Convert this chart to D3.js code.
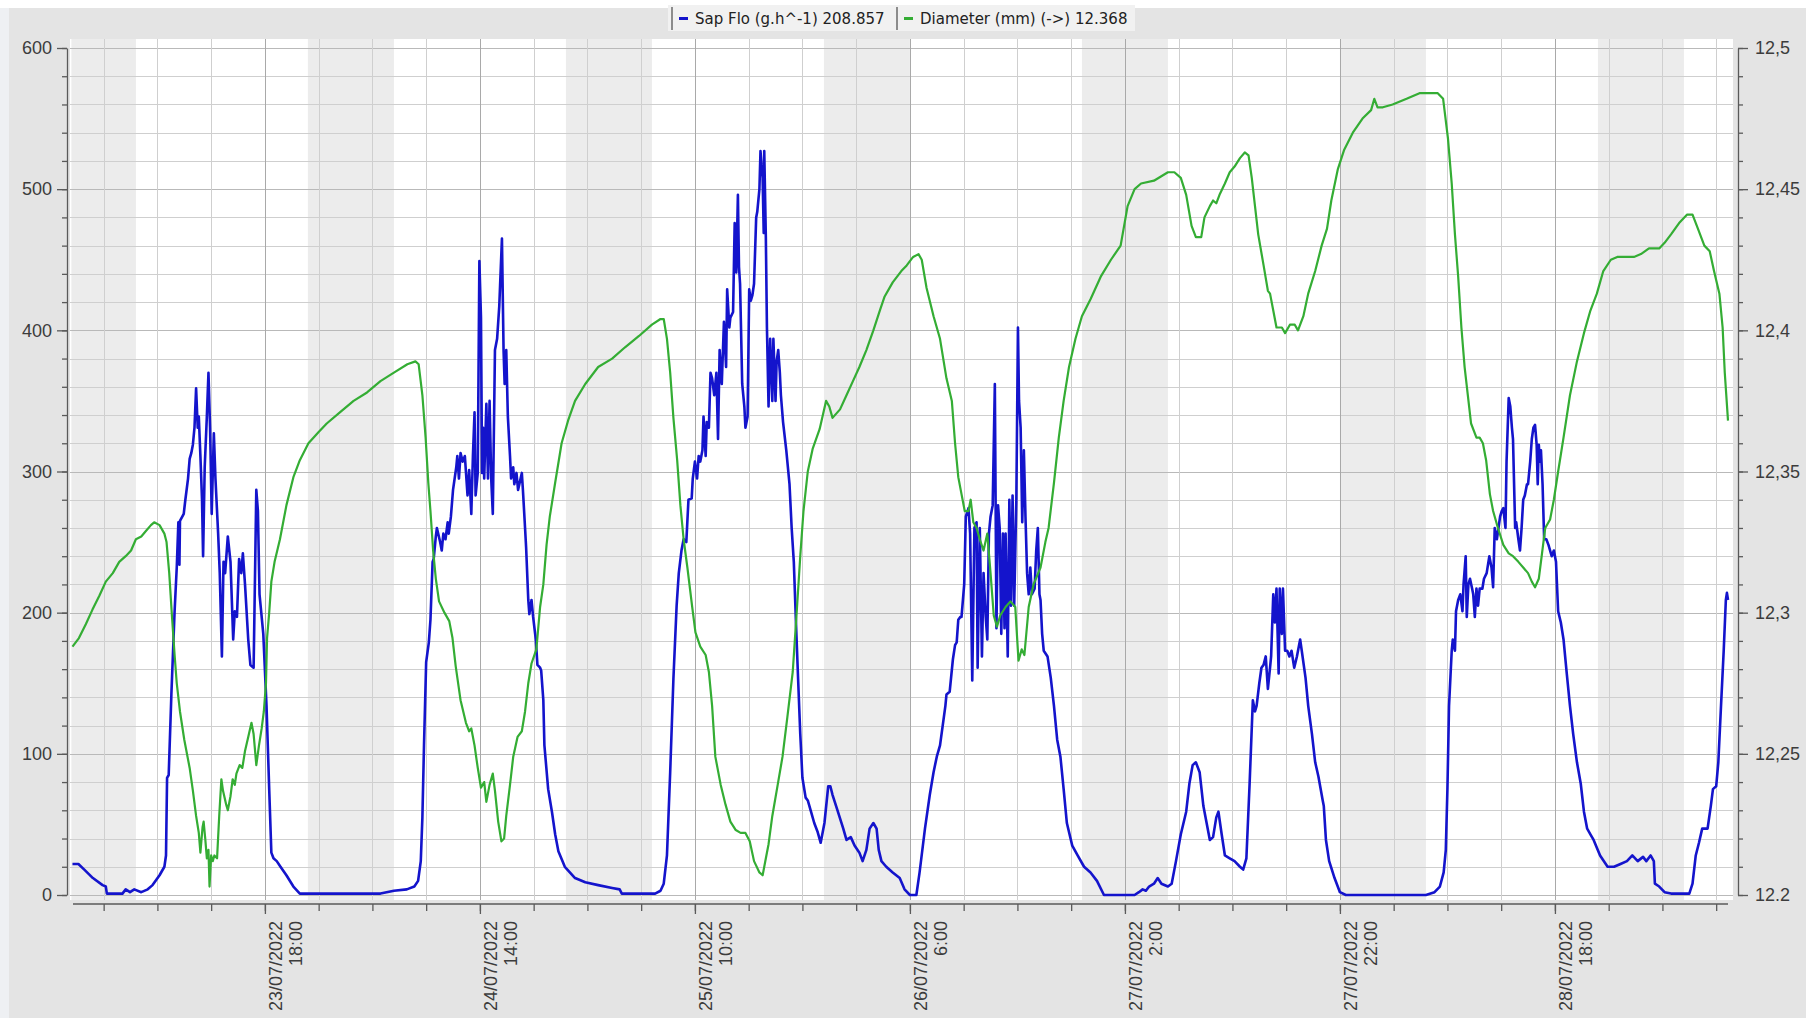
<!DOCTYPE html>
<html>
<head>
<meta charset="utf-8">
<script src="https://cdn.jsdelivr.net/npm/d3@7"></script>
<style>
body { margin: 0; background: #fff; }
svg { display: block; }
</style>
</head>
<body>
<svg id="chart" width="1806" height="1018"></svg>
<script>
// time is kept as hours since 23/07/2022 0:00
var start = new Date(2022, 6, 23, 0, 0);
var endHour = 154.1;

// night shading (22:00 -> 6:00)
var nights = [[0, 6], [22, 30], [46, 54], [70, 78], [94, 102], [118, 126], [142, 150]];

var tickHours = d3.range(3, 154, 5);
var labelHours = [18, 38, 58, 78, 98, 118, 138];

var sapTicks = [0, 100, 200, 300, 400, 500, 600];
var diaTicks = [12.2, 12.25, 12.3, 12.35, 12.4, 12.45, 12.5];
var diaLabels = ["12.2", "12,25", "12,3", "12,35", "12,4", "12,45", "12,5"];

var legendItems = ["Sap Flo (g.h^-1) 208.857", "Diameter (mm) (->) 12.368"];

// Sap flow (left axis) [hour, g/h]
var sapFlow = [
[0.1,22],[0.65,22],[1.2,18],[2,12],[2.9,7],[3.2,6],[3.3,1],[4.75,1],[5.05,4],[5.45,2],[5.85,4],[6.5,2],[7.1,4],[7.55,7],[8.2,14],[8.65,20],[8.8,28],[8.9,83],[9.05,85],[9.3,142],[9.6,201],[9.8,232],[9.95,264],[10.05,234],[10.1,265],[10.45,270],[10.6,280],[10.85,295],[11,309],[11.15,313],[11.3,319],[11.45,331],[11.6,359],[11.75,331],[11.85,339],[12,311],[12.15,280],[12.25,240],[12.4,303],[12.6,339],[12.75,370],[12.9,331],[13.05,270],[13.25,327],[13.4,295],[13.65,256],[13.8,228],[14,169],[14.15,236],[14.3,228],[14.55,254],[14.8,236],[15.05,181],[15.2,201],[15.4,197],[15.6,238],[15.8,228],[15.95,242],[16.15,220],[16.45,181],[16.65,163],[16.95,161],[17.2,287],[17.35,272],[17.5,213],[17.85,185],[18.15,134],[18.4,75],[18.6,30],[18.8,26],[19.1,24],[19.45,20],[20,14],[20.65,6],[21.25,1],[21.6,1],[26.9,1],[28.75,1],[30,3],[31.2,4],[31.9,6],[32.25,10],[32.5,24],[32.65,55],[32.8,106],[33,165],[33.25,179],[33.4,195],[33.6,236],[33.7,238],[33.9,254],[34,260],[34.3,250],[34.45,244],[34.6,256],[34.8,252],[35,264],[35.1,256],[35.3,268],[35.5,287],[35.8,303],[35.9,311],[36.05,295],[36.2,313],[36.4,307],[36.6,311],[36.85,283],[37,301],[37.2,270],[37.35,311],[37.5,342],[37.6,283],[37.8,299],[37.95,449],[38.1,409],[38.2,299],[38.3,331],[38.4,295],[38.6,348],[38.75,295],[38.9,350],[39.05,295],[39.2,270],[39.4,386],[39.6,394],[39.8,417],[40.05,465],[40.2,386],[40.3,362],[40.45,386],[40.6,339],[40.8,311],[40.9,295],[41.1,303],[41.2,291],[41.4,299],[41.55,287],[41.9,299],[42,287],[42.2,260],[42.3,246],[42.5,209],[42.6,199],[42.8,209],[42.95,197],[43.2,181],[43.35,163],[43.6,161],[43.7,159],[43.9,138],[44,106],[44.35,75],[44.7,59],[45,43],[45.3,31],[45.9,20],[46.85,12],[47.8,9],[49,7],[50.3,5],[51,4],[51.2,1],[53.4,1],[54.3,1],[54.8,3],[55.1,8],[55.4,28],[55.7,87],[56,153],[56.3,205],[56.5,228],[56.75,244],[56.95,252],[57.2,250],[57.4,280],[57.7,281],[57.8,295],[58,307],[58.2,295],[58.35,311],[58.5,307],[58.7,315],[58.8,339],[59,311],[59.1,335],[59.3,331],[59.45,370],[59.6,366],[59.8,354],[60,370],[60.15,323],[60.3,386],[60.5,362],[60.7,406],[60.9,374],[61,429],[61.2,402],[61.3,409],[61.55,413],[61.7,476],[61.85,441],[62,496],[62.1,445],[62.2,433],[62.4,362],[62.6,346],[62.7,331],[62.9,339],[63.05,429],[63.2,421],[63.35,425],[63.5,433],[63.7,480],[63.8,484],[64,500],[64.1,527],[64.3,508],[64.4,469],[64.45,527],[64.6,465],[64.7,402],[64.85,346],[65,394],[65.2,350],[65.3,394],[65.5,350],[65.6,378],[65.75,386],[65.9,370],[66,354],[66.2,335],[66.5,315],[66.8,291],[67,260],[67.2,236],[67.4,193],[67.6,153],[67.8,114],[68,83],[68.3,69],[68.5,67],[68.8,59],[69.1,51],[69.4,45],[69.7,37],[70.05,51],[70.4,77],[70.6,77],[70.8,71],[71.3,59],[71.8,47],[72.1,39],[72.5,41],[72.85,35],[73.3,30],[73.6,24],[73.95,32],[74.25,47],[74.6,51],[74.9,47],[75.1,32],[75.35,24],[75.8,20],[76.4,16],[77.05,12],[77.5,4],[78,0],[78.6,0],[78.9,16],[79.4,47],[79.85,71],[80.2,87],[80.5,98],[80.8,106],[81.3,134],[81.4,142],[81.7,144],[82,167],[82.2,177],[82.35,179],[82.5,195],[82.7,197],[82.8,197],[83.05,220],[83.2,268],[83.45,274],[83.6,256],[83.8,152],[84,260],[84.2,264],[84.3,161],[84.5,260],[84.7,169],[84.85,228],[85.05,197],[85.2,181],[85.35,256],[85.5,268],[85.7,276],[85.9,362],[86.05,189],[86.2,276],[86.35,260],[86.5,185],[86.65,256],[86.8,189],[86.9,256],[87.1,169],[87.25,280],[87.4,205],[87.55,283],[87.7,205],[87.9,280],[88.05,402],[88.15,350],[88.3,331],[88.45,264],[88.6,315],[88.75,268],[88.9,228],[89.05,213],[89.2,232],[89.35,213],[89.6,217],[89.75,244],[89.9,260],[90.05,213],[90.15,209],[90.3,185],[90.45,173],[90.8,169],[91.1,154],[91.4,134],[91.7,110],[92,98],[92.3,75],[92.6,51],[93.1,35],[93.6,28],[94.2,20],[94.8,16],[95.4,10],[96.05,0],[98.9,0],[99.3,2],[99.65,4],[99.95,3],[100.25,6],[100.7,8],[101.05,12],[101.4,8],[102,6],[102.35,8],[102.75,24],[103.2,43],[103.7,59],[104,79],[104.3,92],[104.6,94],[104.95,87],[105.3,63],[105.6,51],[105.9,39],[106.2,41],[106.5,55],[106.7,59],[107,43],[107.3,28],[107.75,26],[108.2,24],[108.7,20],[109,18],[109.3,26],[109.6,79],[109.9,138],[110.1,130],[110.25,134],[110.5,150],[110.7,161],[110.9,163],[111.1,169],[111.3,146],[111.5,161],[111.6,169],[111.8,213],[111.95,193],[112.1,217],[112.3,157],[112.4,217],[112.6,185],[112.7,217],[112.9,173],[113.1,173],[113.3,169],[113.5,173],[113.75,161],[114,169],[114.3,181],[114.45,173],[114.8,154],[115.05,134],[115.4,114],[115.7,94],[116,84],[116.4,67],[116.5,63],[116.7,39],[117,24],[117.5,12],[118,2],[118.55,0],[126,0],[126.8,2],[127.3,6],[127.65,16],[127.85,32],[128,75],[128.15,134],[128.4,173],[128.5,181],[128.7,173],[128.8,201],[129,209],[129.2,213],[129.4,201],[129.5,220],[129.7,240],[129.8,197],[129.95,220],[130.1,224],[130.3,217],[130.4,213],[130.55,197],[130.7,217],[130.85,205],[131,217],[131.25,217],[131.4,224],[131.65,228],[131.9,240],[132.1,232],[132.25,218],[132.4,260],[132.6,252],[132.75,260],[132.9,268],[133.05,272],[133.2,274],[133.4,260],[133.5,307],[133.7,352],[133.85,346],[134,331],[134.1,323],[134.3,260],[134.4,264],[134.6,252],[134.75,244],[134.9,260],[135.05,280],[135.2,283],[135.4,291],[135.5,291],[135.7,307],[135.85,323],[136,331],[136.15,333],[136.3,319],[136.4,291],[136.5,319],[136.6,307],[136.7,315],[136.85,291],[137,252],[137.2,252],[137.4,248],[137.7,240],[137.9,244],[138.1,236],[138.3,201],[138.55,193],[138.8,181],[139.1,157],[139.4,134],[139.7,114],[140.05,94],[140.4,79],[140.7,59],[141,47],[141.3,43],[141.6,39],[142.2,28],[142.9,20],[143.5,20],[144.1,22],[144.7,24],[145.2,28],[145.7,24],[146.2,27],[146.5,24],[146.9,28],[147.2,24],[147.3,8],[147.7,6],[148.2,2],[148.8,1],[150.5,1],[150.8,8],[151.1,28],[151.4,37],[151.7,47],[152.2,47],[152.5,63],[152.7,75],[153,77],[153.2,94],[153.45,134],[153.7,173],[153.9,209],[154,214],[154.1,209]
];

// Diameter (right axis) [hour, mm]
var diameter = [
[0.1,12.288],[0.7,12.291],[1.35,12.296],[1.95,12.301],[2.6,12.306],[3.2,12.311],[3.85,12.314],[4.45,12.318],[5.05,12.320],[5.55,12.322],[6,12.326],[6.5,12.327],[6.95,12.329],[7.4,12.331],[7.7,12.332],[8.2,12.331],[8.65,12.328],[8.85,12.325],[9.1,12.314],[9.35,12.299],[9.6,12.285],[9.8,12.275],[10.1,12.265],[10.5,12.255],[11,12.245],[11.3,12.237],[11.6,12.228],[11.85,12.222],[12,12.215],[12.2,12.224],[12.3,12.226],[12.45,12.220],[12.6,12.213],[12.75,12.216],[12.85,12.203],[13,12.214],[13.15,12.212],[13.3,12.214],[13.55,12.213],[13.75,12.228],[13.95,12.241],[14.1,12.237],[14.4,12.232],[14.55,12.230],[14.8,12.235],[15,12.241],[15.2,12.239],[15.35,12.243],[15.65,12.246],[15.9,12.245],[16.15,12.251],[16.45,12.256],[16.75,12.261],[16.95,12.257],[17.2,12.246],[17.45,12.253],[17.7,12.259],[17.9,12.265],[18.1,12.275],[18.2,12.291],[18.4,12.300],[18.6,12.311],[18.9,12.318],[19.4,12.326],[20,12.338],[20.65,12.348],[21.25,12.354],[22.05,12.360],[23,12.364],[23.75,12.367],[25,12.371],[26.25,12.375],[27.5,12.378],[28.75,12.382],[30,12.385],[31.25,12.388],[32,12.389],[32.3,12.388],[32.65,12.377],[32.95,12.362],[33.2,12.346],[33.4,12.336],[33.65,12.322],[33.9,12.312],[34.2,12.304],[34.7,12.300],[35.15,12.297],[35.45,12.291],[35.75,12.281],[36.2,12.269],[36.7,12.261],[37,12.258],[37.2,12.259],[37.5,12.253],[37.8,12.245],[38.1,12.238],[38.4,12.240],[38.6,12.233],[38.9,12.239],[39.2,12.243],[39.4,12.237],[39.7,12.226],[40,12.219],[40.25,12.220],[40.45,12.228],[40.8,12.239],[41.1,12.249],[41.5,12.256],[41.9,12.258],[42.2,12.265],[42.5,12.275],[42.8,12.282],[43.25,12.287],[43.6,12.302],[43.9,12.310],[44.2,12.324],[44.5,12.334],[45,12.346],[45.6,12.360],[46.2,12.368],[46.85,12.375],[47.8,12.381],[49,12.387],[50.3,12.390],[51.5,12.394],[52.8,12.398],[54,12.402],[54.8,12.404],[55.1,12.404],[55.4,12.397],[55.7,12.385],[56,12.369],[56.35,12.354],[56.65,12.338],[56.95,12.326],[57.3,12.316],[57.75,12.302],[58.05,12.293],[58.5,12.288],[59,12.285],[59.3,12.279],[59.6,12.267],[59.9,12.249],[60.4,12.239],[60.85,12.232],[61.3,12.226],[61.8,12.223],[62.25,12.222],[62.7,12.222],[63.1,12.219],[63.5,12.212],[64,12.208],[64.3,12.207],[64.6,12.213],[64.85,12.218],[65.2,12.228],[65.7,12.239],[66.15,12.249],[66.6,12.263],[67.1,12.279],[67.5,12.302],[67.8,12.320],[68.1,12.336],[68.5,12.350],[68.95,12.358],[69.6,12.365],[70.2,12.375],[70.5,12.373],[70.8,12.369],[71.5,12.372],[72.1,12.377],[72.7,12.382],[73.3,12.387],[73.95,12.393],[74.6,12.400],[75.2,12.407],[75.65,12.412],[76.4,12.417],[77.2,12.421],[77.7,12.423],[78.3,12.426],[78.8,12.427],[79.1,12.425],[79.55,12.415],[80.2,12.405],[80.8,12.397],[81.4,12.383],[81.9,12.375],[82.2,12.360],[82.5,12.348],[82.8,12.342],[83.1,12.336],[83.45,12.336],[83.65,12.340],[83.9,12.332],[84.2,12.330],[84.5,12.326],[84.85,12.322],[85.2,12.328],[85.5,12.314],[85.8,12.299],[86.1,12.295],[86.4,12.299],[86.9,12.302],[87.35,12.304],[87.8,12.302],[88.1,12.283],[88.4,12.287],[88.65,12.285],[89.05,12.302],[89.5,12.310],[90.15,12.316],[90.6,12.325],[90.9,12.330],[91.4,12.346],[91.85,12.362],[92.3,12.375],[92.8,12.387],[93.4,12.397],[94,12.405],[94.8,12.411],[95.75,12.419],[96.7,12.425],[97.6,12.430],[98.25,12.444],[98.9,12.450],[99.5,12.452],[100.7,12.453],[102,12.456],[102.6,12.456],[103.2,12.454],[103.7,12.448],[104.2,12.437],[104.6,12.433],[105.1,12.433],[105.4,12.440],[105.9,12.444],[106.2,12.446],[106.5,12.445],[106.8,12.448],[107.3,12.452],[107.75,12.456],[108.2,12.458],[108.7,12.461],[109.15,12.463],[109.5,12.462],[109.8,12.454],[110.1,12.444],[110.4,12.434],[110.9,12.423],[111.3,12.414],[111.5,12.413],[111.8,12.407],[112.1,12.401],[112.6,12.401],[112.9,12.399],[113.35,12.402],[113.8,12.402],[114.1,12.400],[114.6,12.405],[115.05,12.413],[115.7,12.421],[116.3,12.430],[116.8,12.436],[117.2,12.446],[117.8,12.457],[118.4,12.464],[119.2,12.470],[120.1,12.475],[120.9,12.478],[121.2,12.482],[121.5,12.479],[122,12.479],[122.9,12.480],[124.2,12.482],[125.4,12.484],[127.1,12.484],[127.6,12.482],[128.05,12.468],[128.4,12.452],[128.7,12.434],[129,12.419],[129.3,12.401],[129.6,12.387],[129.9,12.377],[130.2,12.367],[130.7,12.362],[131,12.362],[131.3,12.360],[131.6,12.354],[131.95,12.342],[132.25,12.336],[132.7,12.330],[133.2,12.324],[133.7,12.321],[134.1,12.320],[134.6,12.318],[135.05,12.316],[135.5,12.314],[135.85,12.311],[136.15,12.309],[136.5,12.312],[136.8,12.321],[137.1,12.330],[137.55,12.333],[137.9,12.340],[138.3,12.350],[138.8,12.362],[139.4,12.377],[140.05,12.389],[140.7,12.399],[141.3,12.407],[141.9,12.413],[142.5,12.421],[143.2,12.425],[143.8,12.426],[144.7,12.426],[145.35,12.426],[146,12.427],[146.75,12.429],[147.7,12.429],[148.2,12.431],[148.8,12.434],[149.55,12.438],[150.3,12.441],[150.8,12.441],[151.3,12.436],[151.9,12.430],[152.4,12.428],[152.8,12.421],[153.3,12.413],[153.6,12.401],[153.8,12.385],[154.1,12.368]
];

function hourDate(h) {
    return new Date(start.getTime() + h * 3600000);
}

var svg = d3.select("#chart");

var x = d3.scaleTime().domain([start, hourDate(endHour)]).range([71.4, 1728]);
var ySap = d3.scaleLinear().domain([0, 600]).range([895, 48]);
var yDia = d3.scaleLinear().domain([12.2, 12.5]).range([895, 48]);

// window background
svg.append("rect").attr("x", 0).attr("y", 0).attr("width", 1806).attr("height", 1018).attr("fill", "#ffffff");
svg.append("rect").attr("x", 9).attr("y", 8).attr("width", 1797).attr("height", 1010).attr("fill", "#e4e4e4");
svg.append("rect").attr("x", 0).attr("y", 8).attr("width", 9).attr("height", 1010).attr("fill", "#eef0f3");

// plot area
svg.append("rect").attr("x", 70).attr("y", 39).attr("width", 1663).attr("height", 861).attr("fill", "#ffffff");

svg.append("g").selectAll("rect")
    .data(nights)
    .join("rect")
    .attr("x", function(d) { return x(hourDate(d[0])); })
    .attr("width", function(d) { return x(hourDate(d[1])) - x(hourDate(d[0])); })
    .attr("y", 39)
    .attr("height", 861)
    .attr("fill", "#ececec");

// grid
svg.append("g").selectAll("line")
    .data(d3.range(0, 601, 20))
    .join("line")
    .attr("x1", 70).attr("x2", 1733)
    .attr("y1", function(d) { return Math.round(ySap(d)) + 0.5; })
    .attr("y2", function(d) { return Math.round(ySap(d)) + 0.5; })
    .attr("stroke", function(d) { return d % 100 == 0 ? "#b9b9b9" : "#cfcfcf"; })
    .attr("stroke-width", 1);

svg.append("g").selectAll("line")
    .data(tickHours)
    .join("line")
    .attr("x1", function(d) { return Math.round(x(hourDate(d))) + 0.5; })
    .attr("x2", function(d) { return Math.round(x(hourDate(d))) + 0.5; })
    .attr("y1", 39).attr("y2", 900)
    .attr("stroke", function(d) { return labelHours.indexOf(d) >= 0 ? "#a9a9a9" : "#cfcfcf"; })
    .attr("stroke-width", 1);

// series
var sapLine = d3.line()
    .x(function(d) { return x(hourDate(d[0])); })
    .y(function(d) { return ySap(d[1]); });

var diaLine = d3.line()
    .x(function(d) { return x(hourDate(d[0])); })
    .y(function(d) { return yDia(d[1]); });

svg.append("path")
    .datum(sapFlow)
    .attr("d", sapLine)
    .attr("fill", "none")
    .attr("stroke", "#1414cc")
    .attr("stroke-width", 2.6)
    .attr("stroke-linejoin", "round");

svg.append("path")
    .datum(diameter)
    .attr("d", diaLine)
    .attr("fill", "none")
    .attr("stroke", "#34ad34")
    .attr("stroke-width", 2.2)
    .attr("stroke-linejoin", "round");

// axes
var axisColor = "#5a5a5a";
var textColor = "#3c3c3c";
var axisFont = "'Liberation Sans', Arial, sans-serif";

function styleAxis(g) {
    g.selectAll("path, line").attr("stroke", axisColor).attr("stroke-width", 1.3);
    g.selectAll("text").attr("fill", textColor).style("font-family", axisFont).style("font-size", "18px");
}

svg.append("g")
    .attr("transform", "translate(67,0)")
    .call(d3.axisLeft(ySap).tickValues(d3.range(0, 601, 20)).tickSize(5).tickSizeOuter(0).tickFormat(""))
    .call(styleAxis);

svg.append("g")
    .attr("transform", "translate(67,0)")
    .call(d3.axisLeft(ySap).tickValues(sapTicks).tickSize(10).tickSizeOuter(0).tickPadding(5))
    .call(styleAxis)
    .call(function(g) { g.select(".domain").remove(); });

svg.append("g")
    .attr("transform", "translate(1738,0)")
    .call(d3.axisRight(yDia).tickValues(d3.range(0, 31).map(function(i) { return 12.2 + i * 0.01; })).tickSize(5).tickSizeOuter(0).tickFormat(""))
    .call(styleAxis);

svg.append("g")
    .attr("transform", "translate(1738,0)")
    .call(d3.axisRight(yDia).tickValues(diaTicks).tickSize(10).tickSizeOuter(0).tickPadding(7)
        .tickFormat(function(d, i) { return diaLabels[i]; }))
    .call(styleAxis)
    .call(function(g) { g.select(".domain").remove(); });

// time axis
var xAxisY = 904;
svg.append("line")
    .attr("x1", 73).attr("x2", 1728)
    .attr("y1", xAxisY).attr("y2", xAxisY)
    .attr("stroke", axisColor).attr("stroke-width", 1.5);

svg.append("g")
    .attr("transform", "translate(0," + xAxisY + ")")
    .call(d3.axisBottom(x).tickValues(tickHours.map(hourDate))
        .tickSize(7).tickSizeOuter(0).tickFormat(""))
    .call(styleAxis)
    .call(function(g) { g.select(".domain").remove(); });

svg.append("g")
    .attr("transform", "translate(0," + xAxisY + ")")
    .call(d3.axisBottom(x).tickValues(labelHours.map(hourDate))
        .tickSize(10).tickSizeOuter(0).tickFormat(""))
    .call(styleAxis)
    .call(function(g) { g.select(".domain").remove(); });

var dayFormat = d3.timeFormat("%d/%m/%Y");
var timeFormat = d3.timeFormat("%-H:%M");

var xLabels = svg.append("g").selectAll("text")
    .data(labelHours.map(hourDate))
    .join("text")
    .attr("transform", function(d) { return "translate(" + x(d) + ",921) rotate(-90)"; })
    .attr("text-anchor", "end")
    .attr("fill", textColor)
    .style("font-family", axisFont)
    .style("font-size", "18px");

xLabels.append("tspan").attr("x", 0).attr("y", 17).text(function(d) { return dayFormat(d); });
xLabels.append("tspan").attr("x", 0).attr("y", 37).text(function(d) { return timeFormat(d); });

// legend
var legend = svg.append("g");
legend.append("rect")
    .attr("x", 668).attr("y", 5).attr("width", 467).attr("height", 26)
    .attr("fill", "#f1f1f1");

var legendX = [672, 897];
var legendColors = ["#1414cc", "#34ad34"];

legendItems.forEach(function(label, i) {
    var lx = legendX[i];
    legend.append("line")
        .attr("x1", lx).attr("x2", lx).attr("y1", 7).attr("y2", 30)
        .attr("stroke", "#6a6a6a").attr("stroke-width", 1.5);
    legend.append("line")
        .attr("x1", lx + 7).attr("x2", lx + 16).attr("y1", 18.5).attr("y2", 18.5)
        .attr("stroke", legendColors[i]).attr("stroke-width", 3);
    legend.append("text")
        .attr("x", lx + 23).attr("y", 24)
        .attr("fill", "#222")
        .style("font-family", "'DejaVu Sans', Tahoma, sans-serif")
        .style("font-size", "15px")
        .text(label);
});
</script>
</body>
</html>
